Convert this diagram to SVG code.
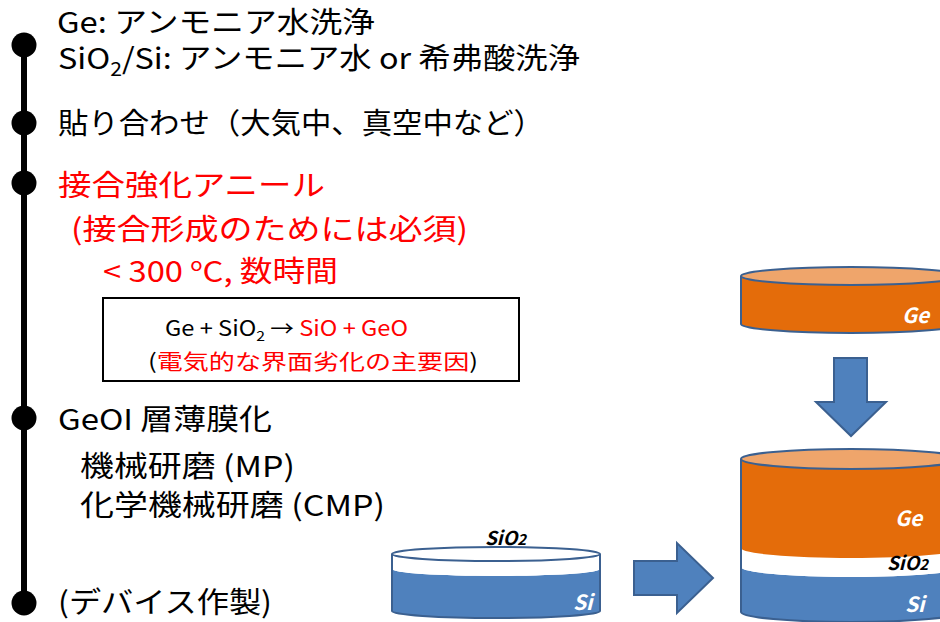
<svg xmlns="http://www.w3.org/2000/svg" width="940" height="622" viewBox="0 0 940 622">
  <style>
    text { font-family: "Noto Sans CJK JP", "Noto Sans", sans-serif; }
    .step { font-size: 29px; fill: #000; }
    .red { fill: #FF0000; }
    .note { font-size: 21px; fill: #000; }
    .lbl { font-size: 21px; font-weight: bold; font-style: italic; fill: #fff; }
    .lblk { font-size: 19px; font-weight: bold; font-style: italic; fill: #000; }
    .outline { fill: none; stroke: #3B6090; stroke-width: 2; }
    .blue { fill: #4F81BD; }
    .orange { fill: #E46C0A; }
    .orangeTop { fill: #EFA56B; }
    .white { fill: #FFFFFF; }
    .arrow { fill: #4F81BD; stroke: #3B6090; stroke-width: 2; stroke-linejoin: miter; }
  </style>

  <rect width="940" height="622" fill="#FFFFFF"/>

  <!-- timeline -->
  <g id="timeline">
    <line x1="24" y1="45" x2="24" y2="603" stroke="#000" stroke-width="6"/>
    <circle cx="24" cy="45" r="12.5" fill="#000"/>
    <circle cx="24" cy="123" r="12.5" fill="#000"/>
    <circle cx="24" cy="183" r="12.5" fill="#000"/>
    <circle cx="24" cy="418" r="12.5" fill="#000"/>
    <circle cx="24" cy="603" r="12.5" fill="#000"/>
  </g>

  <!-- step 1: cleaning -->
  <g id="step-clean">
    <text class="step" x="57" y="33" font-size="27" textLength="318" lengthAdjust="spacingAndGlyphs">Ge: アンモニア水洗浄</text>
    <text class="step" x="58" y="69" font-size="28" textLength="522" lengthAdjust="spacingAndGlyphs">SiO<tspan font-size="19" dy="7">2</tspan><tspan dy="-7">/Si: アンモニア水 or 希弗酸洗浄</tspan></text>
  </g>

  <!-- step 2: bonding -->
  <g id="step-bond">
    <text class="step" x="58" y="134" textLength="486" lengthAdjust="spacingAndGlyphs">貼り合わせ（大気中、真空中など）</text>
  </g>

  <!-- step 3: anneal -->
  <g id="step-anneal">
    <text class="step red" x="58" y="196" textLength="267" lengthAdjust="spacingAndGlyphs">接合強化アニール</text>
    <text class="step red" x="71" y="240" textLength="397" lengthAdjust="spacingAndGlyphs">(接合形成のためには必須)</text>
    <text class="step red" x="103" y="282" textLength="235" lengthAdjust="spacingAndGlyphs">&lt; 300 <tspan font-size="18" dy="-11">o</tspan><tspan dy="11">C, 数時間</tspan></text>
  </g>

  <!-- reaction note -->
  <g id="reaction-box">
    <rect x="103" y="298" width="416" height="83" fill="#FFFFFF" stroke="#000" stroke-width="2"/>
    <text class="note" x="165" y="336" textLength="243" lengthAdjust="spacingAndGlyphs">Ge + SiO<tspan font-size="14" dy="5">2</tspan><tspan dy="-5"> → </tspan><tspan class="red">SiO + GeO</tspan></text>
    <text class="note" x="148" y="369" textLength="330" lengthAdjust="spacingAndGlyphs">(<tspan class="red">電気的な界面劣化の主要因</tspan>)</text>
  </g>

  <!-- step 4: thinning -->
  <g id="step-thin">
    <text class="step" x="58" y="430" textLength="214" lengthAdjust="spacingAndGlyphs">GeOI 層薄膜化</text>
    <text class="step" x="80" y="477" textLength="215" lengthAdjust="spacingAndGlyphs">機械研磨 (MP)</text>
    <text class="step" x="80" y="516" textLength="305" lengthAdjust="spacingAndGlyphs">化学機械研磨 (CMP)</text>
  </g>

  <!-- step 5: device -->
  <g id="step-device">
    <text class="step" x="58" y="613" textLength="214" lengthAdjust="spacingAndGlyphs">(デバイス作製)</text>
  </g>

  <!-- SiO2/Si wafer -->
  <g id="wafer-sio2-si">
    <path class="blue" d="M392,569 A104,7 0 0 0 600,569 L600,611 A104,7 0 0 1 392,611 Z"/>
    <path class="white" d="M392,554 A104,7 0 0 0 600,554 L600,569 A104,7 0 0 1 392,569 Z"/>
    <path class="outline" d="M392,554 L392,611 A104,7 0 0 0 600,611 L600,554"/>
    <ellipse class="white" cx="496" cy="554" rx="104" ry="7"/>
    <ellipse class="outline" cx="496" cy="554" rx="104" ry="7"/>
    <text class="lblk" x="485" y="545">SiO<tspan font-size="15">2</tspan></text>
    <text class="lbl" x="573" y="610">Si</text>
  </g>

  <!-- Ge wafer -->
  <g id="wafer-ge">
    <path class="orange" d="M741,276 A110,9 0 0 0 961,276 L961,324 A110,9 0 0 1 741,324 Z"/>
    <path class="outline" d="M741,276 L741,324 A110,9 0 0 0 961,324 L961,276"/>
    <ellipse class="orangeTop" cx="851" cy="276" rx="110" ry="9"/>
    <ellipse class="outline" cx="851" cy="276" rx="110" ry="9"/>
    <text class="lbl" x="902" y="323">Ge</text>
  </g>

  <!-- bonded stack -->
  <g id="bonded-stack">
    <path class="blue" d="M741,567 A110,10 0 0 0 961,567 L961,612 A110,10 0 0 1 741,612 Z"/>
    <path class="white" d="M741,548 A110,10 0 0 0 961,548 L961,567 A110,10 0 0 1 741,567 Z"/>
    <path class="orange" d="M741,459 A110,10 0 0 0 961,459 L961,548 A110,10 0 0 1 741,548 Z"/>
    <path class="outline" d="M741,459 L741,612 A110,10 0 0 0 961,612 L961,459"/>
    <ellipse class="orangeTop" cx="851" cy="459" rx="110" ry="10"/>
    <ellipse class="outline" cx="851" cy="459" rx="110" ry="10"/>
    <text class="lbl" x="895" y="526">Ge</text>
    <text class="lblk" x="887" y="570">SiO<tspan font-size="15">2</tspan></text>
    <text class="lbl" x="905" y="612">Si</text>
  </g>

  <!-- process arrows -->
  <g id="connectors">
    <path class="arrow" d="M634,561 L677,561 L677,543 L713,578 L677,613 L677,595 L634,595 Z"/>
    <path class="arrow" d="M834,358 L867,358 L867,402 L886,402 L851,436 L816,402 L834,402 Z"/>
  </g>
</svg>
